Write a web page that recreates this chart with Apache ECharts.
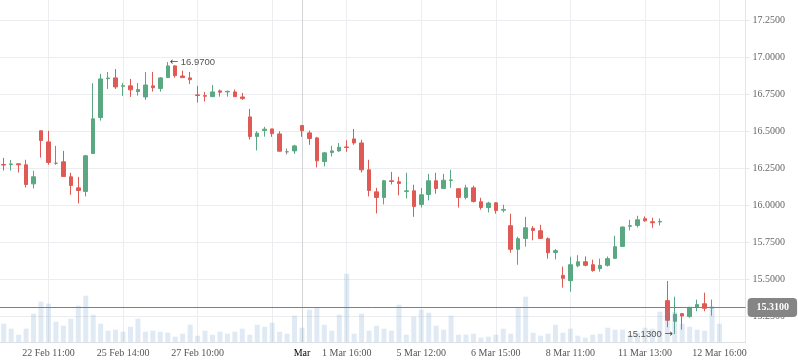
<!DOCTYPE html>
<html><head><meta charset="utf-8">
<script src="https://cdn.jsdelivr.net/npm/echarts@6/dist/echarts.min.js"></script>
<style>html,body{margin:0;padding:0;background:#fff}#c{width:798px;height:363px}</style>
</head><body><div id="c"></div>
<script>
// category slots (100 bars wide, last few empty)
const categories = Array.from({length: 100}, (_, i) => String(i));
const tickIndex = [6, 16, 26, 40, 46, 56, 66, 76, 86, 96];
const tickLabels = ['22 Feb 11:00','25 Feb 14:00','27 Feb 10:00','Mar','1 Mar 16:00','5 Mar 12:00','6 Mar 15:00','8 Mar 11:00','11 Mar 13:00','12 Mar 16:00'];
const gridLineIndex = [6, 16, 26, 36, 40, 46, 56, 66, 76, 86, 96];
const monthIndex = 40;

const open = [16.277,16.277,16.282,16.275,16.146,16.505,16.430,16.286,16.295,16.194,
16.119,16.095,16.351,16.595,16.858,16.863,16.806,16.809,16.770,16.734,
16.809,16.791,16.865,16.944,16.876,16.863,16.748,16.743,16.736,16.775,
16.768,16.768,16.734,16.599,16.466,16.507,16.518,16.484,16.363,16.369,
16.541,16.491,16.457,16.297,16.358,16.369,16.396,16.450,16.423,16.241,
16.092,16.054,16.167,16.160,16.095,16.099,16.007,16.074,16.167,16.115,
16.169,16.113,16.054,16.119,16.025,15.986,16.018,15.968,15.863,15.703,
15.777,15.845,15.829,15.775,15.682,15.527,15.491,15.592,15.619,15.599,
15.572,15.595,15.642,15.723,15.859,15.865,15.910,15.890,15.888,15.356,
15.216,15.268,15.248,15.313,15.335,15.306];
const close = [16.273,16.281,16.275,16.142,16.194,16.439,16.291,16.286,16.196,16.135,
16.101,16.336,16.586,16.856,16.862,16.802,16.810,16.782,16.784,16.815,
16.797,16.863,16.944,16.878,16.865,16.851,16.744,16.739,16.768,16.766,
16.772,16.736,16.723,16.466,16.489,16.516,16.486,16.367,16.363,16.403,
16.505,16.453,16.302,16.356,16.369,16.394,16.392,16.423,16.241,16.101,
16.054,16.167,16.162,16.149,16.099,15.993,16.072,16.167,16.115,16.171,
16.173,16.054,16.119,16.027,15.986,16.016,15.966,15.973,15.703,15.775,
15.849,15.831,15.777,15.680,15.694,15.507,15.599,15.619,15.595,15.559,
15.595,15.640,15.721,15.854,15.863,15.903,15.896,15.883,15.892,15.223,
15.264,15.252,15.311,15.329,15.304,15.310];
const low = [16.236,16.236,16.223,16.122,16.115,16.324,16.275,16.275,16.195,16.072,
16.014,16.061,16.351,16.574,16.788,16.788,16.741,16.734,16.743,16.714,
16.770,16.770,16.865,16.865,16.864,16.822,16.696,16.703,16.736,16.736,
16.736,16.734,16.714,16.446,16.372,16.466,16.464,16.365,16.345,16.349,
16.464,16.410,16.257,16.264,16.331,16.363,16.363,16.410,16.223,16.061,
15.946,16.007,16.142,16.068,16.047,15.923,15.986,16.034,16.079,16.115,
16.119,15.986,16.041,16.020,15.971,15.953,15.944,15.953,15.680,15.599,
15.721,15.764,15.777,15.640,15.635,15.444,15.417,15.581,15.588,15.552,
15.552,15.586,15.640,15.721,15.831,15.851,15.890,15.849,15.865,15.176,
15.130,15.160,15.241,15.284,15.284,15.254];
const high = [16.322,16.308,16.283,16.309,16.234,16.505,16.505,16.403,16.369,16.221,
16.194,16.342,16.827,16.890,16.903,16.923,16.829,16.856,16.829,16.903,
16.903,16.869,16.970,16.950,16.912,16.903,16.809,16.768,16.815,16.784,
16.777,16.784,16.761,16.653,16.502,16.532,16.518,16.502,16.385,16.410,
16.541,16.507,16.464,16.360,16.403,16.423,16.441,16.518,16.444,16.309,
16.119,16.173,16.227,16.194,16.221,16.140,16.119,16.214,16.221,16.214,
16.241,16.115,16.140,16.133,16.052,16.025,16.020,16.005,15.944,15.788,
15.923,15.860,15.869,15.784,15.705,15.586,15.653,15.664,15.655,15.633,
15.640,15.655,15.795,15.858,15.903,15.930,15.926,15.917,15.912,15.489,
15.383,15.273,15.313,15.363,15.410,15.363];
const volume = [18.3,13.3,7.3,13.3,28.3,40.3,38.3,20.3,16.3,23.3,36.3,46.3,27.3,18.3,11.3,12.3,10.3,15.3,23.3,10.3,
11.3,10.3,9.3,5.3,8.3,17.3,6.3,11.3,7.3,10.3,8.3,10.3,13.3,7.3,17.3,15.3,19.3,10.3,8.3,26.3,
14.3,32.3,34.3,17.3,11.3,27.3,68.3,8.3,28.3,11.3,16.3,13.3,11.3,37.3,7.3,25.3,32.3,29.3,16.3,12.3,
26.3,7.3,7.3,8.3,4.3,5.3,7.3,13.3,8.3,34.3,45.3,9.3,6.3,8.3,17.3,9.3,13.3,6.3,4.3,7.3,
8.3,14.3,12.3,12.3,7.3,9.3,14.3,13.3,30.3,32,30,18.3,15.3,12.3,11.3,36,18.3];
const priceTicks = {min: 15.0, max: 17.39, interval: 0.25};
const lastPrice = close[close.length - 1];

const UP = '#5aa882', DOWN = '#e05a55', DOJI = '#888888';
const candles = categories.map((c, i) => i < open.length ? [open[i], close[i], low[i], high[i]] : '-');
const serif = 'Liberation Serif';
const arrowRich = {a: {fontFamily: 'DejaVu Sans', fontSize: 10, color: '#444'}, t: {fontFamily: 'Liberation Sans', fontSize: 9.5, color: '#555'}};

const chart = echarts.init(document.getElementById('c'), null, {renderer: 'canvas'});
chart.setOption({
  animation: false,
  backgroundColor: '#ffffff',
  grid: [
    {left: 0, right: 52.4, top: 0, bottom: 9.75},
    {left: 0, right: 52.4, top: 0, bottom: 21}
  ],
  xAxis: [
    {type: 'category', gridIndex: 0, data: categories, boundaryGap: true, show: false},
    {type: 'category', gridIndex: 1, data: categories, boundaryGap: true,
     axisLine: {show: true, lineStyle: {color: '#dcdfe3', width: 1}},
     axisTick: {show: false}, splitLine: {show: false},
     axisLabel: {
       interval: (i) => tickIndex.indexOf(i) >= 0,
       formatter: (v, i) => {
         const k = tickIndex.indexOf(Number(v));
         if (k < 0) return '';
         return Number(v) === monthIndex ? '{m|' + tickLabels[k] + '}' : tickLabels[k];
       },
       margin: 6, color: '#555', fontFamily: serif, fontSize: 10,
       rich: {m: {color: '#000', fontFamily: serif, fontSize: 10}}
     }}
  ],
  yAxis: [
    {type: 'value', gridIndex: 0, position: 'right', scale: true,
     min: priceTicks.min, max: priceTicks.max, interval: priceTicks.interval,
     axisLine: {show: false},
     axisTick: {show: true, length: 4, lineStyle: {color: '#e6e8eb'}},
     axisLabel: {showMinLabel: false, showMaxLabel: false, margin: 7,
       formatter: (v) => v.toFixed(4), color: '#666', fontFamily: serif, fontSize: 10},
     splitLine: {show: true, showMinLine: false, showMaxLine: false, lineStyle: {color: '#ebedf0', width: 1}}},
    {type: 'value', gridIndex: 1, position: 'right', min: 0, max: 342,
     axisLine: {show: true, lineStyle: {color: '#e3e5e8'}},
     axisTick: {show: false}, axisLabel: {show: false}, splitLine: {show: false}}
  ],
  series: [
    {
      type: 'candlestick', name: 'price', xAxisIndex: 0, yAxisIndex: 0, z: 2,
      data: candles, barWidth: 4,
      itemStyle: {color: UP, color0: DOWN, borderColor: UP, borderColor0: DOWN, borderColorDoji: DOJI, borderWidth: 1},
      markLine: {
        silent: true, symbol: 'none', z: 5,
        data: [{yAxis: lastPrice}],
        lineStyle: {color: '#7f7f7f', width: 1, type: 'solid'},
        label: {show: true, position: 'end', distance: 2, formatter: (p) => Number(p.value).toFixed(4),
          color: '#fff', fontWeight: 'bold', fontFamily: serif, fontSize: 10,
          backgroundColor: '#858585', padding: [5, 8, 4, 9], borderRadius: 4}
      },
      markPoint: {
        silent: true, symbol: 'circle', symbolSize: 0,
        data: [
          {type: 'max', valueDim: 'highest', label: {position: 'right', distance: 2, formatter: (p) => '{a|\u2190} {t|' + Number(p.value).toFixed(4) + '}'}},
          {type: 'min', valueDim: 'lowest', label: {position: 'left', distance: 2, formatter: (p) => '{t|' + Number(p.value).toFixed(4) + '} {a|\u2192}'}}
        ],
        label: {show: true, color: '#555', fontFamily: 'Liberation Sans', fontSize: 9.5, rich: arrowRich}
      }
    },
    {
      type: 'bar', name: 'volume', xAxisIndex: 1, yAxisIndex: 1, z: 3,
      data: volume, barWidth: 5,
      itemStyle: {color: 'rgba(100,150,200,0.2)'},
      markLine: {
        silent: true, symbol: 'none', z: 1, label: {show: false},
        data: gridLineIndex.map(i => ({xAxis: i, lineStyle: {color: i === monthIndex ? '#d2d4d7' : '#ebedf0', width: 1, type: 'solid'}}))
      }
    }
  ]
});
</script></body></html>
